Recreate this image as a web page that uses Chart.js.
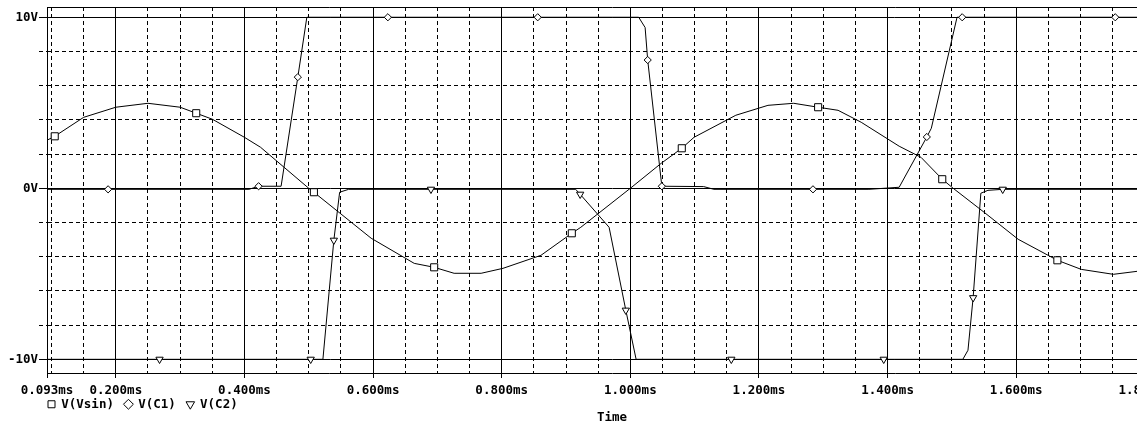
<!DOCTYPE html>
<html>
<head>
<meta charset="utf-8">
<script src="https://cdn.jsdelivr.net/npm/chart.js@4"></script>
<style>
  html, body { margin: 0; padding: 0; overflow: hidden; background: #fff; }
  #wrap { width: 1180px; height: 444px; position: relative; }
</style>
</head>
<body>
<div id="wrap"><canvas id="c"></canvas></div>
<script>
// ---- Data ----
// V(Vsin)
const vsinTime  = [0.093, 0.105, 0.150, 0.200, 0.250, 0.300, 0.325, 0.350, 0.400, 0.425, 0.500, 0.508, 0.597, 0.664, 0.695, 0.726, 0.768, 0.802, 0.861, 0.909, 0.923, 1.000, 1.048, 1.080, 1.099, 1.164, 1.214, 1.254, 1.292, 1.323, 1.359, 1.418, 1.452, 1.485, 1.502, 1.550, 1.603, 1.664, 1.701, 1.751, 1.789, 1.850];
const vsinVolts = [2.81, 3.04, 4.15, 4.74, 4.97, 4.74, 4.39, 4.04, 2.98, 2.40, 0.00, -0.23, -2.92, -4.39, -4.62, -4.97, -4.97, -4.68, -3.92, -2.63, -2.28, 0.00, 1.46, 2.34, 2.98, 4.27, 4.85, 4.97, 4.74, 4.56, 3.86, 2.46, 1.81, 0.53, 0.00, -1.40, -2.98, -4.21, -4.74, -5.03, -4.85, -4.05];
const vsinMarkers = [1, 6, 11, 14, 19, 23, 28, 33, 37];

// V(C1)
const c1Time  = [0.093, 0.188, 0.407, 0.422, 0.457, 0.483, 0.497, 0.623, 0.856, 1.013, 1.023, 1.027, 1.049, 1.114, 1.130, 1.284, 1.371, 1.418, 1.461, 1.468, 1.508, 1.516, 1.754, 1.850];
const c1Volts = [-0.06, -0.06, -0.06, 0.12, 0.12, 6.50, 10.0, 10.0, 10.0, 10.0, 9.40, 7.50, 0.12, 0.10, -0.06, -0.06, -0.06, 0.06, 3.00, 3.51, 10.0, 10.0, 10.0, 10.0];
const c1Markers = [1, 3, 5, 7, 8, 11, 12, 15, 18, 21, 22];

// V(C2)
const c2Time  = [0.093, 0.268, 0.503, 0.522, 0.539, 0.548, 0.562, 0.690, 0.915, 0.922, 0.967, 0.993, 1.009, 1.157, 1.394, 1.517, 1.525, 1.533, 1.545, 1.556, 1.579, 1.850];
const c2Volts = [-10.0, -10.0, -10.0, -10.0, -3.04, -0.23, -0.06, -0.06, -0.06, -0.35, -2.28, -7.13, -10.0, -10.0, -10.0, -10.0, -9.47, -6.40, -0.29, -0.12, -0.06, -0.06];
const c2Markers = [1, 2, 4, 7, 9, 11, 13, 14, 17, 20];

// Axes
const timeLabelTicks = [0.093, 0.2, 0.4, 0.6, 0.8, 1.0, 1.2, 1.4, 1.6, 1.8];
const timeMinorStep = 0.05;
const timeMin = 0.093, timeMax = 1.85;
const voltTicks = [-10, -8, -6, -4, -2, 0, 2, 4, 6, 8, 10];
const voltLabelTicks = [-10, 0, 10];
const voltMin = -10.8, voltMax = 10.6;
const seriesNames = ['V(Vsin)', 'V(C1)', 'V(C2)'];
const xTitle = 'Time';

// ---- Build ----
const FONT = '"DejaVu Sans Mono", "Liberation Mono", monospace';
Chart.defaults.font.family = FONT;
Chart.defaults.font.size = 12.5;
Chart.defaults.font.weight = 'bold';
Chart.defaults.color = '#000';

function pts(t, v) { return t.map((x, i) => ({ x: x, y: v[i] })); }
const near = (a, b) => Math.abs(a - b) < 1e-6;
const isTimeLabel = v => timeLabelTicks.some(t => near(t, v));
const isVoltLabel = v => voltLabelTicks.some(t => near(t, v));

const xTickValues = [timeMin];
for (let k = 2; k * timeMinorStep <= timeMax + 1e-9; k++) xTickValues.push(+(k * timeMinorStep).toFixed(3));

function ds(label, t, v, markers, style, radius, rotation) {
  return {
    label: label,
    data: pts(t, v),
    borderColor: '#000',
    borderWidth: 1,
    backgroundColor: '#fff',
    pointStyle: style,
    rotation: rotation || 0,
    pointRadius: c => markers.includes(c.dataIndex) ? radius : 0,
    pointHoverRadius: 0,
    pointBorderColor: '#000',
    pointBackgroundColor: '#fff',
    pointBorderWidth: 1,
    tension: 0,
    fill: false
  };
}

// place the legend between the tick labels and the axis title, like the original
const legendPlace = {
  id: 'legendPlace',
  afterLayout(chart) {
    const l = chart.legend;
    if (!l) return;
    const w = l.width;
    l.left = 37; l.right = 37 + w;
    l.top = chart.chartArea.bottom + 14;
    l.height = 30;
    l.bottom = l.top + 30;
  }
};

new Chart(document.getElementById('c'), {
  type: 'line',
  data: {
    datasets: [
      ds(seriesNames[0], vsinTime, vsinVolts, vsinMarkers, 'rect', 5, 0),
      ds(seriesNames[1], c1Time, c1Volts, c1Markers, 'rectRot', 3.6, 0),
      ds(seriesNames[2], c2Time, c2Volts, c2Markers, 'triangle', 4.2, 180)
    ]
  },
  options: {
    animation: false,
    responsive: true,
    maintainAspectRatio: false,
    events: [],
    layout: { padding: { left: 0, top: 7, right: 3, bottom: 0 } },
    scales: {
      x: {
        type: 'linear',
        position: 'bottom',
        min: timeMin, max: timeMax,
        bounds: 'data',
        afterBuildTicks: s => { s.ticks = xTickValues.map(v => ({ value: v })); },
        afterFit: s => { s.height = 71; s.paddingLeft = 0; s.paddingRight = 0; },
        ticks: {
          autoSkip: false, maxRotation: 0, minRotation: 0, padding: 5,
          font: { size: 12.5, weight: 'bold', lineHeight: 1.2 },
          callback: v => isTimeLabel(v) ? v.toFixed(3) + 'ms' : ''
        },
        title: {
          display: true, text: xTitle, color: '#000',
          font: { size: 12.5, weight: 'bold', lineHeight: 1.2 },
          padding: { top: 0, bottom: 18.5 }
        },
        grid: {
          color: '#000', lineWidth: 1,
          drawTicks: true, tickLength: 5,
          tickColor: c => (c.tick && isTimeLabel(c.tick.value)) ? '#000' : 'rgba(0,0,0,0)'
        },
        border: {
          display: true, color: '#000', width: 1,
          dash: c => (c.tick && !isTimeLabel(c.tick.value)) ? [4, 3] : []
        }
      },
      xTop: {
        type: 'linear', position: 'top', min: timeMin, max: timeMax, display: true,
        afterFit: s => { s.height = 0; s.paddingLeft = 0; s.paddingRight = 0; },
        ticks: { display: false },
        grid: { display: false, drawTicks: false },
        border: { display: true, color: '#000', width: 1 }
      },
      y: {
        type: 'linear', position: 'left',
        min: voltMin, max: voltMax, bounds: 'data',
        afterBuildTicks: s => { s.ticks = voltTicks.map(v => ({ value: v })); },
        afterFit: s => { s.width = 47; s.paddingTop = 0; s.paddingBottom = 0; },
        ticks: {
          autoSkip: false, padding: 1,
          font: { size: 12.5, weight: 'bold', lineHeight: 1.2 },
          callback: v => isVoltLabel(v) ? v + 'V' : ''
        },
        grid: {
          color: '#000', lineWidth: 1,
          drawTicks: true, tickLength: 8,
          tickColor: '#000',
          tickBorderDash: c => (c.tick && !isVoltLabel(c.tick.value)) ? [4, 3] : []
        },
        border: {
          display: true, color: '#000', width: 1,
          dash: c => (c.tick && !isVoltLabel(c.tick.value)) ? [4, 3] : []
        }
      }
    },
    plugins: {
      legend: {
        display: true, position: 'top', align: 'start', maxHeight: 0.0001,
        labels: {
          usePointStyle: true, boxWidth: 7, boxHeight: 7, padding: 11,
          color: '#000', font: { size: 12.5, weight: 'bold' }
        }
      },
      title: { display: false },
      tooltip: { enabled: false }
    }
  },
  plugins: [legendPlace]
});
</script>
</body>
</html>
